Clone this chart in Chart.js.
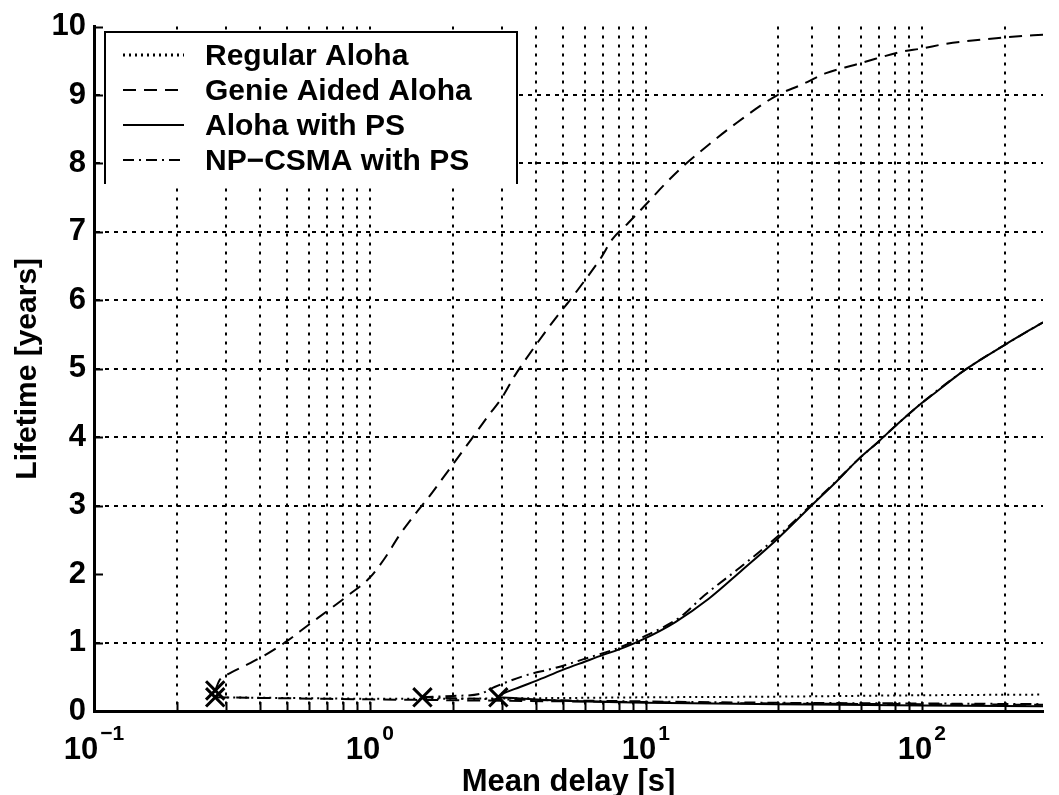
<!DOCTYPE html>
<html>
<head>
<meta charset="utf-8">
<title>Lifetime vs mean delay</title>
<script src="https://cdn.jsdelivr.net/npm/chart.js@4.4.1/dist/chart.umd.min.js"></script>
<style>
  html, body { margin: 0; padding: 0; background: #fff; }
  #wrap { width: 1059px; height: 795px; }
</style>
</head>
<body>
<div id="wrap"><canvas id="lifetimeChart" width="1059" height="795"></canvas></div>
<script>
// --- Values (x = mean delay [s], y = lifetime [years]) ---
const legendLabels = ["Regular Aloha", "Genie Aided Aloha", "Aloha with PS", "NP\u2212CSMA with PS"];

// Genie Aided Aloha, rising branch
const genieX = [0.275, 0.285, 0.31, 0.36, 0.43, 0.5, 0.6, 0.7, 0.84, 1.0, 1.14, 1.27, 1.46, 1.63, 1.82,
  2.03, 2.33, 2.67, 3.0, 3.35, 4.03, 4.69, 5.3, 5.98, 6.87, 7.55, 8.63, 10, 11.6, 13.4, 15.5,
  20.8, 30, 36.6, 45, 57, 68, 84, 100, 123, 186, 243, 275];
const genieY = [0.3, 0.45, 0.55, 0.68, 0.85, 1.02, 1.26, 1.46, 1.7, 1.95, 2.25, 2.55, 2.88, 3.12, 3.38,
  3.64, 3.97, 4.3, 4.57, 4.9, 5.37, 5.73, 6.0, 6.28, 6.62, 6.89, 7.13, 7.4, 7.68, 7.93, 8.15,
  8.56, 9.0, 9.15, 9.32, 9.44, 9.53, 9.63, 9.68, 9.75, 9.83, 9.87, 9.88];
// Genie Aided Aloha, low branch
const genieLowX = [0.275, 1, 3, 10, 30, 100, 275];
const genieLowY = [0.2, 0.17, 0.15, 0.13, 0.11, 0.1, 0.09];

// Regular Aloha
const regularX = [0.275, 0.5, 1, 2, 5, 10, 30, 100, 275];
const regularY = [0.2, 0.19, 0.18, 0.18, 0.19, 0.2, 0.21, 0.23, 0.24];

// Aloha with PS
const alohaX = [2.92, 3.0, 3.5, 4, 5, 6, 7, 8, 9.8, 12.8, 16.9, 22.2, 29.7, 39.8, 49, 59, 69, 80,
  100, 111, 143, 200, 275];
const alohaY = [0.2, 0.24, 0.35, 0.44, 0.6, 0.72, 0.82, 0.9, 1.05, 1.3, 1.64, 2.05, 2.5, 3.0, 3.35,
  3.68, 3.92, 4.16, 4.5, 4.64, 4.98, 5.35, 5.68];
const alohaLowX = [2.92, 5, 10, 30, 100, 275];
const alohaLowY = [0.2, 0.15, 0.12, 0.1, 0.08, 0.07];

// NP-CSMA with PS
const csmaX = [1.55, 2.0, 2.5, 2.83, 3.6, 4.7, 6.2, 8.06, 10, 13.4, 16.2, 22, 30, 40, 49, 59, 69, 80,
  100, 143, 200, 275];
const csmaY = [0.2, 0.22, 0.25, 0.35, 0.51, 0.63, 0.78, 0.93, 1.1, 1.38, 1.68, 2.1, 2.55, 3.02, 3.36,
  3.68, 3.92, 4.16, 4.5, 4.98, 5.35, 5.68];
const csmaLowX = [1.55, 3, 10, 30, 100, 275];
const csmaLowY = [0.2, 0.17, 0.14, 0.12, 0.11, 0.1];

// axis ticks / grid
const xGridTicks = [0.1, 0.2, 0.3, 0.4, 0.5, 0.6, 0.7, 0.8, 0.9, 1, 2, 3, 4, 5, 6, 7, 8, 9,
  10, 30, 40, 50, 60, 70, 80, 90, 100, 200];
const xLabelValues = [0.1, 1, 10, 100];
const xLabelExps = ["\u22121", "0", "1", "2"];
const yNoGrid = [0, 2, 10];

const FONT = '"Liberation Sans", Arial, Helvetica, sans-serif';
Chart.defaults.font.family = FONT;
Chart.defaults.color = "#000";

function pts(xs, ys) {
  return xs.map((x, i) => ({ x: x, y: ys[i] }));
}

function series(label, xs, ys, dash, marker) {
  return {
    label: label,
    data: pts(xs, ys),
    borderColor: "#000",
    borderWidth: 2,
    borderDash: dash,
    cubicInterpolationMode: "monotone",
    pointStyle: "crossRot",
    pointRadius: (c) => (marker && c.dataIndex === 0 ? 13 : 0),
    pointBorderWidth: 3,
    pointBorderColor: "#000",
    pointBackgroundColor: "#000",
  };
}

const DOT = [2, 4];
const DASH = [13, 8];
const DASHDOT = [11, 5, 2, 5];
const SOLID = [];
const legendDash = [DOT, DASH, SOLID, DASHDOT];

// draws the boxed legend, the x tick labels (10 with exponent) and the inner tick marks
const matlabBits = {
  id: "matlabBits",
  afterDatasetsDraw(chart) {
    const ctx = chart.ctx;
    const left = 105, right = 517, top = 32, bottom = 184;
    ctx.save();
    ctx.fillStyle = "#fff";
    ctx.fillRect(left, top, right - left, bottom - top);
    ctx.strokeStyle = "#000";
    ctx.lineWidth = 2;
    ctx.beginPath();
    ctx.moveTo(left, bottom);
    ctx.lineTo(left, top);
    ctx.lineTo(right, top);
    ctx.lineTo(right, bottom);
    ctx.stroke();
    ctx.font = "bold 30px " + FONT;
    ctx.fillStyle = "#000";
    ctx.textBaseline = "alphabetic";
    legendLabels.forEach((lab, i) => {
      const yy = 55 + 35 * i;
      ctx.setLineDash(legendDash[i]);
      ctx.lineWidth = i === 0 ? 3 : 2;
      ctx.beginPath();
      ctx.moveTo(123, yy);
      ctx.lineTo(184, yy);
      ctx.stroke();
      ctx.setLineDash([]);
      ctx.fillText(lab, 205, yy + 10);
    });
    ctx.restore();
  },
  afterDraw(chart) {
    const ctx = chart.ctx;
    const { x, y } = chart.scales;
    const area = chart.chartArea;
    ctx.save();
    ctx.strokeStyle = "#000";
    ctx.lineWidth = 2;
    ctx.beginPath();
    for (let v = 1; v <= 10; v++) {
      const py = Math.round(y.getPixelForValue(v)) + 0.5;
      ctx.moveTo(area.left, py);
      ctx.lineTo(area.left + 9, py);
    }
    xGridTicks.forEach((v) => {
      const px = Math.round(x.getPixelForValue(v)) + 0.5;
      ctx.moveTo(px, area.bottom);
      ctx.lineTo(px, area.bottom - 9);
    });
    ctx.stroke();

    ctx.fillStyle = "#000";
    ctx.textBaseline = "alphabetic";
    xLabelValues.forEach((v, i) => {
      const px = x.getPixelForValue(v);
      ctx.font = "bold 31px " + FONT;
      const w1 = ctx.measureText("10").width;
      ctx.font = "bold 21px " + FONT;
      const w2 = ctx.measureText(xLabelExps[i]).width;
      const start = px - (w1 + 2 + w2) / 2;
      ctx.font = "bold 31px " + FONT;
      ctx.fillText("10", start, area.bottom + 48);
      ctx.font = "bold 21px " + FONT;
      ctx.fillText(xLabelExps[i], start + w1 + 2, area.bottom + 29);
    });
    ctx.restore();
  },
};

new Chart(document.getElementById("lifetimeChart"), {
  type: "line",
  data: {
    datasets: [
      series("Regular Aloha", regularX, regularY, DOT, true),
      series("Genie Aided Aloha", genieX, genieY, DASH, true),
      series("Genie Aided Aloha (low)", genieLowX, genieLowY, DASH, false),
      series("Aloha with PS", alohaX, alohaY, SOLID, true),
      series("Aloha with PS (low)", alohaLowX, alohaLowY, SOLID, false),
      series("NP-CSMA with PS", csmaX, csmaY, DASHDOT, true),
      series("NP-CSMA with PS (low)", csmaLowX, csmaLowY, DASHDOT, false),
    ],
  },
  options: {
    responsive: false,
    animation: false,
    layout: { padding: { top: 22, left: 0, right: 0, bottom: 0 } },
    plugins: {
      legend: { display: false },
      tooltip: { enabled: false },
    },
    scales: {
      x: {
        type: "logarithmic",
        min: 0.1,
        max: 275,
        afterBuildTicks: (s) => {
          s.ticks = xGridTicks.map((v) => ({ value: v }));
        },
        afterFit: (s) => {
          s.height = 84;
        },
        ticks: { display: false },
        grid: {
          drawTicks: false,
          lineWidth: 2,
          color: (c) => (c.tick && c.tick.value === 0.1 ? "transparent" : "#000"),
        },
        border: { display: true, color: "#000", width: 3, dash: [3, 6] },
        title: {
          display: true,
          text: "Mean delay [s]",
          font: { size: 31, weight: "bold", lineHeight: 0.8 },
          padding: 0,
        },
      },
      y: {
        min: 0,
        max: 10,
        afterFit: (s) => {
          s.width = 94;
        },
        ticks: {
          stepSize: 1,
          padding: 8,
          font: { size: 31, weight: "bold" },
          color: "#000",
        },
        grid: {
          drawTicks: false,
          lineWidth: 2,
          color: (c) => (c.tick && yNoGrid.includes(c.tick.value) ? "transparent" : "#000"),
        },
        border: { display: true, color: "#000", width: 3, dash: [4, 5] },
        title: {
          display: true,
          text: "Lifetime [years]",
          font: { size: 30, weight: "bold" },
          padding: { top: 10, bottom: 0 },
        },
      },
    },
  },
  plugins: [matlabBits],
});
</script>
</body>
</html>
